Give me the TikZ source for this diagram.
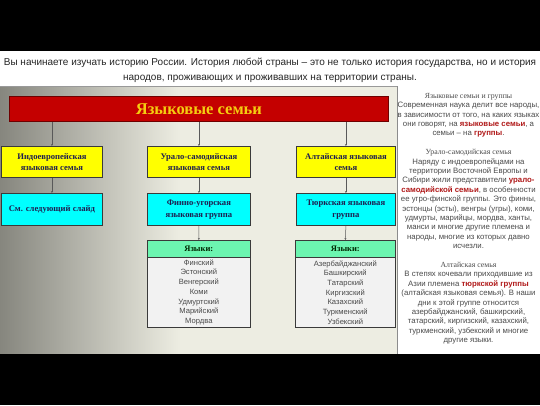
\documentclass[tikz,border=0pt]{standalone}
\usepackage{fontspec}
\setmainfont{Liberation Sans}
\newfontfamily\serifb{Liberation Serif}
\usetikzlibrary{arrows.meta}
\definecolor{bgdark}{HTML}{86867E}
\definecolor{bglight}{HTML}{EDEDE2}
\definecolor{redbar}{HTML}{C40000}
\definecolor{redborder}{HTML}{6E0000}
\definecolor{titleyellow}{HTML}{F5CE10}
\definecolor{boxyellow}{HTML}{FFFF00}
\definecolor{boxcyan}{HTML}{00FFFF}
\definecolor{boxgreen}{HTML}{6CF5B0}
\definecolor{listgray}{HTML}{F2F2F2}
\definecolor{boxborder}{HTML}{3A3A3A}
\definecolor{navytext}{HTML}{1E1E50}
\definecolor{graytext}{HTML}{4A4A4A}
\definecolor{redtxt}{HTML}{B01818}
\begin{document}
\begin{tikzpicture}[x=1pt,y=-1pt,
  familybox/.style={draw=boxborder, line width=0.8pt, minimum height=31pt, align=center,
    font=\serifb\bfseries\fontsize{8.6}{11.5}\selectfont, text=navytext, inner sep=1pt, anchor=north west},
  yellowbox/.style={familybox, fill=boxyellow},
  cyanbox/.style={familybox, fill=boxcyan, minimum height=32pt},
  headbox/.style={draw=boxborder, line width=0.7pt, fill=boxgreen, minimum height=17pt, anchor=north west,
    font=\serifb\bfseries\fontsize{8.5}{10}\selectfont, text=black!85!green, inner sep=0pt},
  listbox/.style={draw=boxborder, line width=0.7pt, fill=listgray, minimum height=70pt, anchor=north west,
    align=center, font=\fontsize{7.6}{9.7}\selectfont, text=graytext, inner sep=0pt},
  conn/.style={draw=black!65, line width=0.5pt, -{Stealth[length=2pt,width=2pt]}},
  paneltext/.style={align=center, font=\fontsize{7.8}{9.4}\selectfont, text=graytext, inner sep=0pt, anchor=north},
]
\useasboundingbox (0,0) rectangle (540,405);
% background
\fill[bglight] (0,86) rectangle (397,356);
\shade[left color=bgdark, right color=bglight] (0,86) rectangle (180,356);
% black frame top and bottom
\fill[black] (0,0) rectangle (540,51);
\fill[black] (0,354) rectangle (540,405);
% top white band
\fill[white] (0,51) rectangle (540,86);
\draw[black!40, line width=0.4pt] (0,86) -- (540,86);
\node[font=\fontsize{10}{15}\selectfont, text=black!85, align=center] (intro) at (270,70.5)
  {Вы начинаете изучать историю России. История любой страны – это не только история государства, но и история\\
   народов, проживающих и проживавших на территории страны.};
% right panel
\fill[white] (397,86.3) rectangle (540,354);
\draw[black!45, line width=0.6pt] (397,86.3) -- (397,354);

% title bar
\node[draw=redborder, line width=0.8pt, fill=redbar, anchor=north west, minimum width=379pt, minimum height=25pt,
  inner sep=0pt, font=\serifb\bfseries\fontsize{16.5}{18}\selectfont, text=titleyellow] (title) at (9,96) {Языковые семьи};

% yellow
\node[yellowbox, minimum width=101pt] (y1) at (1,146) {Индоевропейская\\языковая семья};
\node[yellowbox, minimum width=103pt] (y2) at (147,146) {Урало-самодийская\\языковая семья};
\node[yellowbox, minimum width=99pt] (y3) at (296,146) {Алтайская языковая\\семья};
% cyan
\node[cyanbox, minimum width=101pt] (c1) at (1,193) {См. следующий слайд};
\node[cyanbox, minimum width=103pt] (c2) at (147,193) {Финно-угорская\\языковая группа};
\node[cyanbox, minimum width=99pt] (c3) at (296,193) {Тюркская языковая\\группа};
% languages
\node[headbox, minimum width=103pt] (h2) at (147,240) {Языки:};
\node[listbox, minimum width=103pt] (l2) at (147,257)
  {Финский\\Эстонский\\Венгерский\\Коми\\Удмуртский\\Марийский\\Мордва};
\node[headbox, minimum width=100pt] (h3) at (295,240) {Языки:};
\node[listbox, minimum width=100pt] (l3) at (295,257)
  {Азербайджанский\\Башкирский\\Татарский\\Киргизский\\Казахский\\Туркменский\\Узбекский};

% connectors
\draw[conn] (y1.north |- title.south) -- (y1.north);
\draw[conn] (y2.north |- title.south) -- (y2.north);
\draw[conn] (y3.north |- title.south) -- (y3.north);
\draw[conn] (y1.south) -- (c1.north);
\draw[conn] (y2.south) -- (c2.north);
\draw[conn] (y3.south) -- (c3.north);
\draw[conn] (c2.south) -- (h2.north);
\draw[conn] (c3.south) -- (h3.north);

% right panel text
\node[paneltext] (ptext) at (468.5,93) {%
  {\serifb\color{black!70}Языковые семьи и группы}\\
  Современная наука делит все народы,\\
  в зависимости от того, на каких языках\\
  они говорят, на \textcolor{redtxt}{\textbf{языковые семьи}}, а\\
  семьи – на \textcolor{redtxt}{\textbf{группы}}.\\[9.4pt]
  {\serifb\color{black!70}Урало-самодийская семья}\\
  Наряду с индоевропейцами на\\
  территории Восточной Европы и\\
  Сибири жили представители \textcolor{redtxt}{\textbf{урало-}}\\
  \textcolor{redtxt}{\textbf{самодийской семьи}}, в особенности\\
  ее угро-финской группы. Это финны,\\
  эстонцы (эсты), венгры (угры), коми,\\
  удмурты, марийцы, мордва, ханты,\\
  манси и многие другие племена и\\
  народы, многие из которых давно\\
  исчезли.\\[9.4pt]
  {\serifb\color{black!70}Алтайская семья}\\
  В степях кочевали приходившие из\\
  Азии племена \textcolor{redtxt}{\textbf{тюркской группы}}\\
  (алтайская языковая семья). В наши\\
  дни к этой группе относится\\
  азербайджанский, башкирский,\\
  татарский, киргизский, казахский,\\
  туркменский, узбекский и многие\\
  другие языки.};
\end{tikzpicture}
\end{document}
